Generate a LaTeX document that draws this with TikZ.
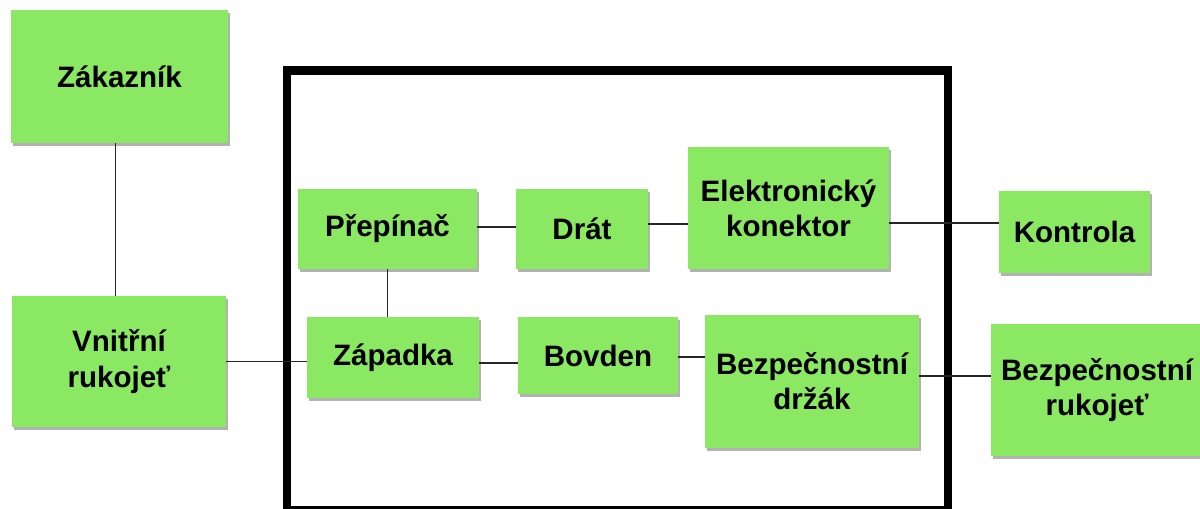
\documentclass[tikz,border=0pt]{standalone}
\usepackage{fontspec}
\setmainfont{Liberation Sans}
\usetikzlibrary{shadows}

\definecolor{blokgreen}{RGB}{138,232,98}

\tikzset{
    blok/.style n args={2}{draw=none, fill=blokgreen, minimum width=#1, minimum height=#2,
        inner sep=2pt, align=center, font=\fontsize{21}{25}\selectfont\bfseries,
        drop shadow={shadow xshift=1.4pt, shadow yshift=-1.8pt, opacity=0.3, fill=black}},
    spoj/.style={line width=1pt, black!85}
}

\begin{document}
\begin{tikzpicture}[x=0.025cm, y=-0.025cm] % one unit = one pixel, y downwards
        \useasboundingbox (0,0) rectangle (1200,508);

        % 1. Draw the frame round the inner parts
        \draw[line width=5.7pt] (287,70.5) rectangle (947.5,510);

        % 2. Outside blocks
        \node[blok={5.4cm}{3.325cm}] (zak) at (119.5,76.5) {Zákazník};
        \node[blok={5.35cm}{3.275cm}] (vni) at (119,361.5) {Vnitřní\\rukojeť};
        \node[blok={3.775cm}{2.05cm}] (kon) at (1074.5,232) {Kontrola};
        \node[blok={5.3cm}{3.3cm}] (bru) at (1097,390) {Bezpečnostní\\rukojeť};

        % 3. Blocks inside the frame
        \node[blok={4.475cm}{2cm}] (pre) at (387.5,229) {Přepínač};
        \node[blok={3.3cm}{2cm}] (drat) at (582,229) {Drát};
        \node[blok={5.025cm}{3.05cm}] (ele) at (788.5,208) {Elektronický\\konektor};
        \node[blok={4.3cm}{2.025cm}] (zap) at (393,357.5) {Západka};
        \node[blok={4cm}{1.925cm}] (bov) at (598,355.5) {Bovden};
        \node[blok={5.35cm}{3.325cm}] (drz) at (812,381.5) {Bezpečnostní\\držák};

        % 4. Connections
        \draw[spoj] ([xshift=-3pt]zak.south) -- ([xshift=-3pt]zak.south |- vni.north);
        \draw[spoj] (vni.east) -- (vni.east -| zap.west);
        \draw[spoj] (pre.south) -- (pre.south |- zap.north);
        \draw[spoj] ([yshift=1.4pt]pre.east) -- ([yshift=1.4pt]pre.east -| drat.west);
        \draw[spoj] ([yshift=3.5pt]drat.east) -- ([yshift=3.5pt]drat.east -| ele.west);
        \draw[spoj] ([yshift=6.4pt]kon.west) -- ([yshift=6.4pt]kon.west -| ele.east);
        \draw[spoj] ([yshift=-3.9pt]zap.east) -- ([yshift=-3.9pt]zap.east -| bov.west);
        \draw[spoj] ([yshift=-1pt]bov.east) -- ([yshift=-1pt]bov.east -| drz.west);
        \draw[spoj] ([yshift=3.9pt]drz.east) -- ([yshift=3.9pt]drz.east -| bru.west);
    \end{tikzpicture}
\end{document}
